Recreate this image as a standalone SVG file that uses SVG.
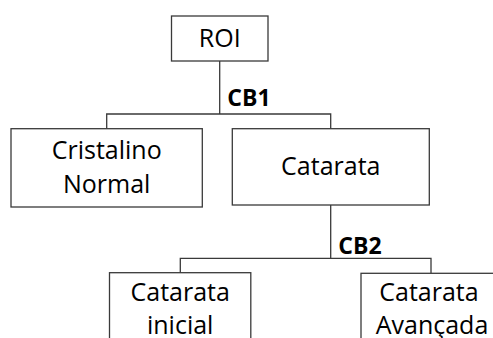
<svg xmlns="http://www.w3.org/2000/svg" width="493" height="338" viewBox="0 0 493 338">
  <style>
    .box { fill: #ffffff; stroke: #3a3a3a; stroke-width: 1.3; }
    .link { fill: none; stroke: #3a3a3a; stroke-width: 1.3; }
    .lbl { font-family: "Open Sans", "Liberation Sans", sans-serif; font-size: 25px; fill: #000000; text-anchor: middle; }
    .cb { font-family: "Open Sans", "Liberation Sans", sans-serif; font-size: 23px; font-weight: bold; fill: #000000; }
  </style>
  <rect width="493" height="338" fill="#ffffff"/>

  <!-- tree connectors -->
  <g id="connectors">
    <path class="link" d="M219.7 61 V114 M106.7 128.7 V114 H330.7 V128.7"/>
    <path class="link" d="M330.7 205 V258.3 M180.3 272.7 V258.3 H431 V273.3"/>
    <text class="cb" x="227.3" y="106">CB1</text>
    <text class="cb" x="338.3" y="254.3">CB2</text>
  </g>

  <g id="roi">
    <rect class="box" x="171.5" y="16" width="96.5" height="45"/>
    <text class="lbl" x="219.8" y="47.3">ROI</text>
  </g>

  <g id="cristalino-normal">
    <rect class="box" x="11" y="128.7" width="191.3" height="78.3"/>
    <text class="lbl" x="106.7" y="159.3">Cristalino</text>
    <text class="lbl" x="106.7" y="192.7">Normal</text>
  </g>

  <g id="catarata">
    <rect class="box" x="232.3" y="128.7" width="197" height="76.3"/>
    <text class="lbl" x="330.8" y="175">Catarata</text>
  </g>

  <g id="catarata-inicial">
    <rect class="box" x="109.5" y="272.7" width="141.3" height="80"/>
    <text class="lbl" x="180.2" y="300.5">Catarata</text>
    <text class="lbl" x="180.2" y="333.7">inicial</text>
  </g>

  <g id="catarata-avancada">
    <rect class="box" x="361" y="273.3" width="140" height="80"/>
    <text class="lbl" x="429" y="300.7">Catarata</text>
    <text class="lbl" x="432" y="334">Avançada</text>
  </g>
</svg>
